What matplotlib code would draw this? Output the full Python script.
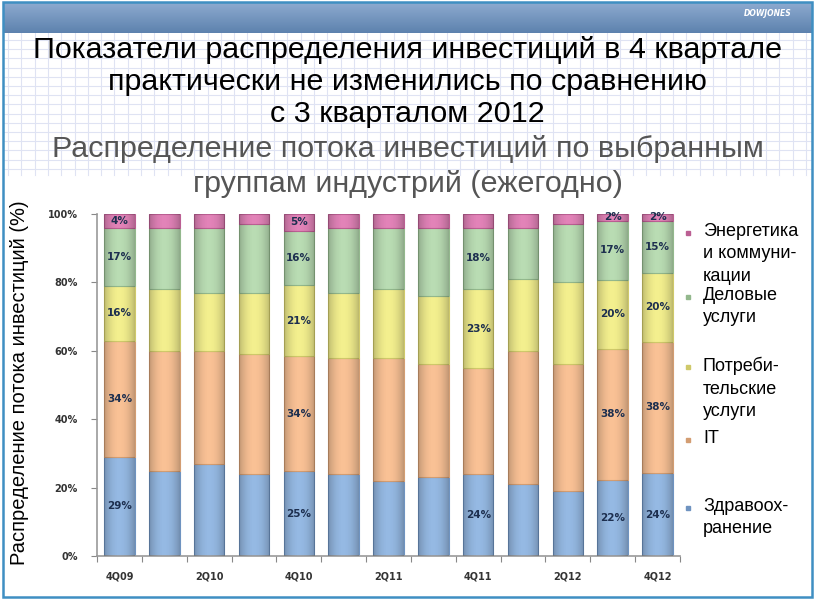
import numpy as np
import matplotlib
matplotlib.use("Agg")
import matplotlib.pyplot as plt
from matplotlib.patches import Rectangle
from matplotlib import font_manager

# quarters, bottom-to-top series (values in %)
quarters = ["4Q09", "1Q10", "2Q10", "3Q10", "4Q10", "1Q11", "2Q11",
            "3Q11", "4Q11", "1Q12", "2Q12", "3Q12", "4Q12"]
health = [29, 25, 27, 24, 25, 24, 22, 23, 24, 21, 19, 22, 24]
it = [34, 35, 33, 35, 34, 34, 36, 33, 31, 39, 37, 38, 38]
consumer = [16, 18, 17, 18, 21, 19, 20, 20, 23, 21, 24, 20, 20]
business = [17, 18, 19, 20, 16, 19, 18, 20, 18, 15, 17, 17, 15]
energy = [4, 4, 4, 3, 5, 4, 4, 4, 4, 4, 3, 2, 2]

series_names = ["Здравоох-\nранение", "IT", "Потреби-\nтельские\nуслуги",
                "Деловые\nуслуги", "Энергетика\nи коммуни-\nкации"]
series_colors = ["#95b9e3", "#f9c195", "#f3ef8e", "#b9dcb3", "#e283b8"]
edge_colors = ["#6f93c0", "#d39d72", "#cfc96a", "#93b88d", "#bb5f93"]
# bars that carry a data label, per series
labelled = [[0, 4, 8, 11, 12], [0, 4, 11, 12], [0, 4, 8, 11, 12],
            [0, 4, 8, 11, 12], [0, 4, 11, 12]]

W, H = 815, 600
fig = plt.figure(figsize=(W / 100, H / 100), dpi=100)

# slide background
bg = fig.add_axes([0, 0, 1, 1])
bg.set_xlim(0, W)
bg.set_ylim(H, 0)
bg.axis("off")
for gx in np.arange(8, W, 13.3):
    bg.plot([gx, gx], [33, 175], color="#dfe3f3", lw=0.8, zorder=0)
for gy in np.arange(40, 176, 9.2):
    bg.plot([4, W - 4], [gy, gy], color="#dfe3f3", lw=0.8, zorder=0)
grad = np.linspace(0, 1, 100).reshape(-1, 1)
bg.imshow(grad, extent=(3, W - 3, 33, 2), cmap=matplotlib.colors.LinearSegmentedColormap.from_list(
    "hdr", ["#8eabd0", "#5d82ae"]), aspect="auto", zorder=1)
bg.add_patch(Rectangle((3, 2), W - 6, H - 5, fill=False, ec="#3f8fc2", lw=1.8, zorder=2))
bg.text(792, 14, "DOWJONES", color="white", fontsize=5.5, fontweight="bold",
        style="italic", ha="right", va="center", zorder=3)

names = {f.name for f in font_manager.fontManager.ttflist}
title_font = "Liberation Sans Narrow" if "Liberation Sans Narrow" in names else "Liberation Sans"
titles = ["Показатели распределения инвестиций в 4 квартале",
          "практически не изменились по сравнению",
          "с 3 кварталом 2012"]
subtitles = ["Распределение потока инвестиций по выбранным",
             "группам индустрий (ежегодно)"]

# size the heading so the first line spans the same width as on the slide
probe = fig.text(0, 0, titles[0], fontsize=20, family=title_font)
renderer = fig.canvas.get_renderer()
title_size = 20 * 748 / probe.get_window_extent(renderer).width
probe.remove()

for i, t in enumerate(titles):
    fig.text(0.5, 1 - (50 + 32 * i) / H, t, ha="center", va="center",
             fontsize=title_size, family=title_font, color="black")
for i, t in enumerate(subtitles):
    fig.text(0.5, 1 - (149 + 35 * i) / H, t, ha="center", va="center",
             fontsize=title_size, family=title_font, color="#555555")

# chart
ax = fig.add_axes([97 / W, 1 - 556 / H, (680 - 97) / W, (556 - 214) / H])
data = np.array([health, it, consumer, business, energy], dtype=float)
shares = data / data.sum(axis=0) * 100
x = np.arange(len(quarters))
bar_w = 0.68
bottom = np.zeros(len(quarters))
for k in range(len(data)):
    ax.bar(x, shares[k], bar_w, bottom=bottom, color=series_colors[k],
           edgecolor=edge_colors[k], linewidth=0.8, zorder=2)
    for j in labelled[k]:
        ax.text(x[j], bottom[j] + shares[k][j] / 2, f"{int(data[k][j])}%",
                ha="center", va="center", fontsize=7.5, fontweight="bold",
                color="#1d2f4f", zorder=4)
    bottom += shares[k]

# cylinder-like shading across each bar
prof = np.linspace(-1, 1, 60)
shade = np.zeros((1, 60, 4))
shade[0, :, 3] = 0.22 * np.abs(prof) ** 2
for xi in x:
    ax.imshow(shade, extent=(xi - bar_w / 2, xi + bar_w / 2, 0, 100),
              aspect="auto", zorder=3, interpolation="bilinear")

ax.set_xlim(-0.5, len(quarters) - 0.5)
ax.set_ylim(0, 100)
ax.set_yticks(np.arange(0, 101, 20))
ax.set_yticklabels([f"{v}%" for v in range(0, 101, 20)], fontsize=7,
                   fontweight="bold", color="#333333")
ax.set_xticks(np.arange(-0.5, len(quarters), 1))
ax.set_xticklabels([])
ax.set_xticks(x[::2], minor=True)
ax.set_xticklabels(quarters[::2], minor=True, fontsize=7, fontweight="bold",
                   color="#333333")
ax.tick_params(axis="x", which="minor", length=0, pad=11)
ax.tick_params(axis="x", which="major", length=4, color="#888888", direction="out")
ax.tick_params(axis="y", length=4, color="#888888", pad=10)
for s in ["top", "right"]:
    ax.spines[s].set_visible(False)
for s in ["left", "bottom"]:
    ax.spines[s].set_color("#999999")
    ax.spines[s].set_linewidth(1.2)
ax.set_facecolor("none")

fig.text(20 / W, 1 - 383 / H, "Распределение потока инвестиций (%)", rotation=90,
         ha="center", va="center", fontsize=14.5, family="Liberation Sans")

# legend, top entry first
legend_y = [233, 297, 367, 440, 508]
for k, yy in zip(range(4, -1, -1), legend_y):
    fig.patches.append(Rectangle((686 / W, 1 - (yy + 2) / H), 4 / W, 4 / H,
                                 transform=fig.transFigure, color=edge_colors[k]))
    fig.text(703 / W, 1 - (yy - 10) / H, series_names[k], ha="left", va="top",
             fontsize=13, family="Liberation Sans", linespacing=1.42)

fig.savefig("out.png", dpi=100)
